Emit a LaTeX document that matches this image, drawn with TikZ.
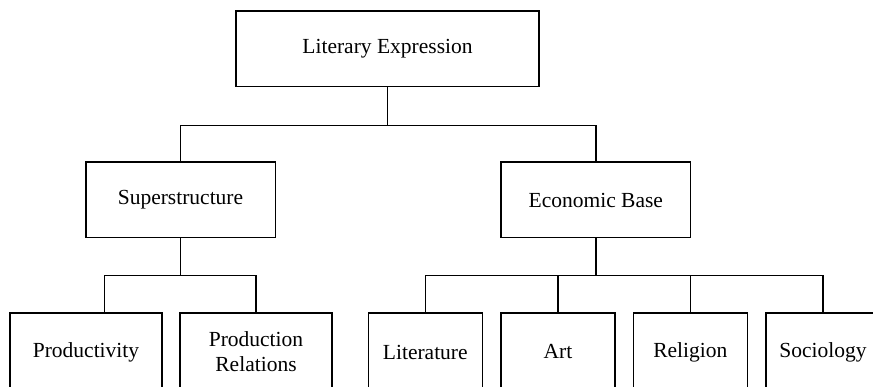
\documentclass[tikz,border=0pt]{standalone}
\usepackage{fontspec}
\setmainfont{Liberation Serif}
\begin{document}
\begin{tikzpicture}[x=1pt,y=-1pt,
  box/.style={draw, line width=1.5pt, inner sep=0pt, align=center,
    font=\fontsize{21.5}{25}\selectfont},
  big/.style={box, minimum width=303pt, minimum height=75.5pt},
  mid/.style={box, minimum width=189.5pt, minimum height=75.5pt},
  leaf/.style={box, minimum height=78pt},
  conn/.style={line width=1.5pt}]
\useasboundingbox (0,0) rectangle (873,387);
\node[big] (top) at (387.5,49) {Literary Expression};
\node[mid] (sup) at (180.5,200) {Superstructure};
\node[mid] (eco) at (595.8,200) {Economic Base};
\node[leaf, minimum width=152pt] (prod) at (86,352) {Productivity};
\node[leaf, minimum width=152pt] (rel) at (256,352) {Production\\Relations};
\node[leaf, minimum width=114pt] (lit) at (425.3,352) {Literature};
\node[leaf, minimum width=114pt] (art) at (558,352) {Art};
\node[leaf, minimum width=114pt] (relig) at (690.3,352) {Religion};
\node[leaf, minimum width=114pt] (soc) at (823,352) {Sociology};
\coordinate (b1) at (387.5,125.5);
\coordinate (b2) at (180.5,275.7);
\coordinate (b3) at (595.8,275.7);
\coordinate (pj) at (104.3,313);
\draw[conn] (top.south) -- (b1);
\draw[conn] (sup.north) |- (b1) -| (eco.north);
\draw[conn] (sup.south) -- (b2);
\draw[conn] (pj) |- (b2) -| (rel.north);
\draw[conn] (eco.south) -- (b3);
\draw[conn] (lit.north) |- (b3) -| (soc.north);
\draw[conn] (art.north) -- (art.north |- b3);
\draw[conn] (relig.north) -- (relig.north |- b3);
\end{tikzpicture}
\end{document}
